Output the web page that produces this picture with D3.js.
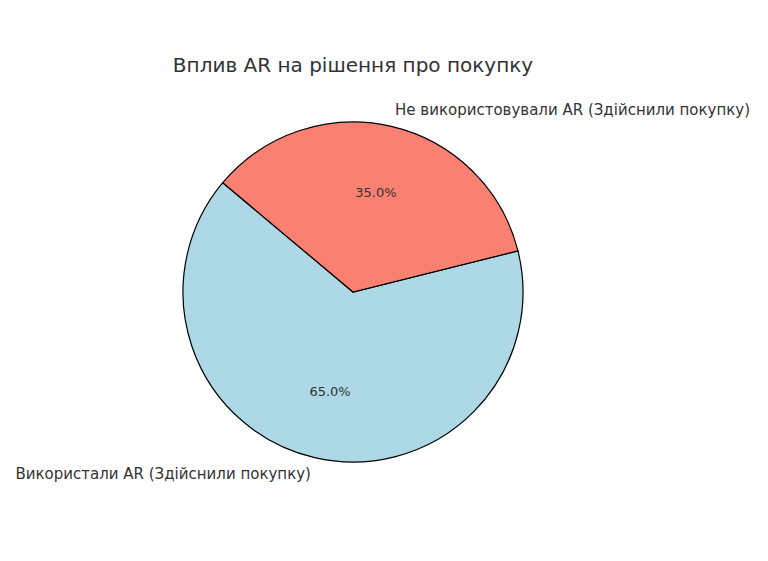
<!DOCTYPE html>
<html>
<head>
<meta charset="utf-8">
<script src="https://cdn.jsdelivr.net/npm/d3@7"></script>
<style>
  body { margin: 0; background: #fff; }
  text { font-family: "DejaVu Sans", sans-serif; fill: #333; }
</style>
</head>
<body>
<svg id="chart" width="768" height="561"></svg>
<script>
var labels = ["Використали AR (Здійснили покупку)", "Не використовували AR (Здійснили покупку)"];
var values = [65, 35];
var colors = ["#add8e6", "#fa8072"];

var svg = d3.select("#chart");
var cx = 353, cy = 292, r = 170;

svg.append("text")
    .attr("x", cx).attr("y", 72)
    .attr("text-anchor", "middle")
    .style("font-size", "20px")
    .text("Вплив AR на рішення про покупку");

var startDeg = 76;
var pie = d3.pie().sort(null)
    .startAngle(startDeg * Math.PI / 180)
    .endAngle((startDeg + 360) * Math.PI / 180);
var arcs = pie(values);

var g = svg.append("g").attr("transform", "translate(" + cx + "," + cy + ")");
var arc = d3.arc().innerRadius(0).outerRadius(r);

g.selectAll("path").data(arcs).enter().append("path")
    .attr("d", arc)
    .attr("fill", function(d, i) { return colors[i]; })
    .attr("stroke", "#000")
    .attr("stroke-width", 1.2);

var total = d3.sum(values);
var pctArc = d3.arc().innerRadius(r * 0.6).outerRadius(r * 0.6);
g.selectAll(".pct").data(arcs).enter().append("text")
    .attr("transform", function(d) { return "translate(" + pctArc.centroid(d) + ")"; })
    .attr("text-anchor", "middle")
    .attr("dy", "0.35em")
    .style("font-size", "13px")
    .text(function(d) { return (d.value / total * 100).toFixed(1) + "%"; });

var labArc = d3.arc().innerRadius(r * 1.1).outerRadius(r * 1.1);
g.selectAll(".lab").data(arcs).enter().append("text")
    .attr("transform", function(d) { return "translate(" + labArc.centroid(d) + ")"; })
    .attr("text-anchor", function(d) { return labArc.centroid(d)[0] < 0 ? "end" : "start"; })
    .attr("dy", "0.35em")
    .style("font-size", "15px")
    .text(function(d, i) { return labels[i]; });
</script>
</body>
</html>
